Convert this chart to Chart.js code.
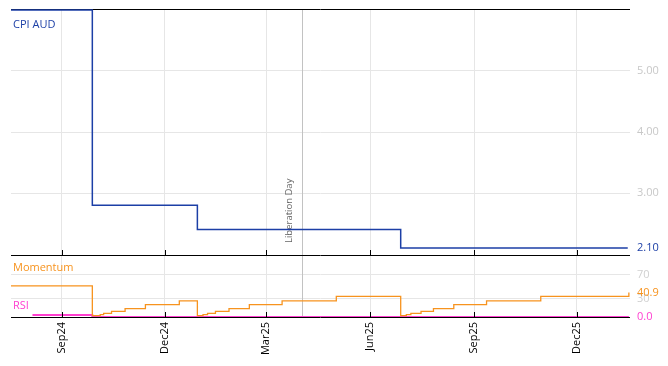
<!DOCTYPE html>
<html>
<head>
<meta charset="utf-8">
<script src="https://cdn.jsdelivr.net/npm/chart.js@4.4.1/dist/chart.umd.min.js"></script>
<style>
  html, body { margin: 0; padding: 0; background: #fff; }
  canvas { display: block; }
</style>
</head>
<body>
<canvas id="chart" width="668" height="366"></canvas>
<script>
// CPI (step series, change points)
const cpiDates = ['2024-07-18', '2024-09-28', '2024-12-30', '2025-06-28', '2026-01-15'];
const cpiValues = [6.00, 2.80, 2.40, 2.10, 2.10];

// Momentum (change points)
const momDates = [
    '2024-07-18', '2024-09-28', '2024-10-05', '2024-10-08', '2024-10-15', '2024-10-27', '2024-11-14', '2024-12-14',
    '2024-12-30', '2025-01-04', '2025-01-08', '2025-01-15', '2025-01-27', '2025-02-14', '2025-03-15', '2025-05-02',
    '2025-06-28', '2025-07-03', '2025-07-07', '2025-07-16', '2025-07-27', '2025-08-14', '2025-09-12', '2025-10-30',
    '2026-01-14', '2026-01-16'
];
const momValues = [
    51.7, 2.2, 3.8, 6.2, 9.5, 13.8, 20.5, 26.7,
    2.2, 3.8, 6.2, 9.5, 13.8, 20.5, 26.7, 34.5,
    2.2, 3.8, 6.2, 9.5, 13.8, 20.5, 26.7, 34.5,
    34.5, 40.9
];

// RSI
const rsiDates = ['2024-08-06', '2024-09-28', '2026-01-16'];
const rsiValues = [3.5, 0.0, 0.0];

// x axis
const tickDates = ['2024-09-01', '2024-12-01', '2025-03-01', '2025-06-01', '2025-09-01', '2025-12-01'];
const tickLabels = ['Sep24', 'Dec24', 'Mar25', 'Jun25', 'Sep25', 'Dec25'];
const xStart = '2024-07-18';
const xEnd = '2026-01-17';

// y axis ticks
const cpiTicks = [3, 4, 5];
const oscTicks = [30, 70];

const libDate = '2025-04-02';
const libLabel = 'Liberation Day';

const BLUE = '#1c3fa6';
const ORANGE = '#f7931e';
const PINK = '#ff3fd0';
const FONT = '"Open Sans", "Noto Sans", sans-serif';

const DAY = 86400000;
function toDay(s) {
    return Date.parse(s + 'T00:00:00Z') / DAY;
}
function points(dates, values) {
    return dates.map((d, i) => ({ x: toDay(d), y: values[i] }));
}
function noPad(s) {
    s.paddingTop = 0;
    s.paddingBottom = 0;
    s.paddingLeft = 0;
    s.paddingRight = 0;
}

const lastCpi = cpiValues[cpiValues.length - 1];
const lastMom = momValues[momValues.length - 1];
const lastRsi = rsiValues[rsiValues.length - 1];

const panelDeco = {
    id: 'panelDeco',
    beforeDatasetsDraw(chart) {
        const { ctx, chartArea, scales } = chart;
        const lx = Math.round(scales.x.getPixelForValue(toDay(libDate))) + 0.5;
        ctx.save();
        ctx.strokeStyle = '#c2c2c2';
        ctx.lineWidth = 1;
        ctx.beginPath();
        ctx.moveTo(lx, chartArea.top);
        ctx.lineTo(lx, chartArea.bottom);
        ctx.stroke();

        ctx.strokeStyle = '#000';
        ctx.beginPath();
        ctx.moveTo(chartArea.left, scales.y.top + 0.5);
        ctx.lineTo(chartArea.right, scales.y.top + 0.5);
        ctx.stroke();

        ctx.translate(lx - 13, scales.y.bottom - 12);
        ctx.rotate(-Math.PI / 2);
        ctx.fillStyle = '#666';
        ctx.font = '9.5px ' + FONT;
        ctx.textAlign = 'left';
        ctx.textBaseline = 'middle';
        ctx.fillText(libLabel, 0, 0);
        ctx.restore();
    },
    afterDatasetsDraw(chart) {
        const { ctx, chartArea, scales } = chart;
        ctx.save();
        ctx.strokeStyle = '#000';
        ctx.lineWidth = 1;
        [scales.y.bottom, scales.y2.bottom].forEach(function (yy) {
            ctx.beginPath();
            ctx.moveTo(chartArea.left, yy + 0.5);
            ctx.lineTo(chartArea.right, yy + 0.5);
            ctx.stroke();
            scales.x.ticks.forEach(function (t) {
                const px = Math.round(scales.x.getPixelForValue(t.value)) + 0.5;
                ctx.beginPath();
                ctx.moveTo(px, yy - 5);
                ctx.lineTo(px, yy);
                ctx.stroke();
            });
        });

        ctx.font = '11px ' + FONT;
        ctx.textAlign = 'left';
        ctx.textBaseline = 'middle';
        ctx.fillStyle = BLUE;
        ctx.fillText('CPI AUD', chartArea.left + 2, scales.y.top + 16);
        ctx.fillStyle = ORANGE;
        ctx.fillText('Momentum', chartArea.left + 2, scales.y2.top + 13);
        ctx.fillStyle = PINK;
        ctx.fillText('RSI', chartArea.left + 2, scales.y2.bottom - 11);
        ctx.restore();
    }
};

new Chart(document.getElementById('chart'), {
    type: 'line',
    data: {
        datasets: [
            {
                label: 'CPI AUD',
                data: points(cpiDates, cpiValues),
                yAxisID: 'y',
                borderColor: BLUE,
                borderWidth: 1.5,
                stepped: true,
                pointRadius: 0
            },
            {
                label: 'Momentum',
                data: points(momDates, momValues),
                yAxisID: 'y2',
                borderColor: ORANGE,
                borderWidth: 1.3,
                stepped: true,
                pointRadius: 0
            },
            {
                label: 'RSI',
                data: points(rsiDates, rsiValues),
                yAxisID: 'y2',
                borderColor: PINK,
                borderWidth: 2,
                stepped: true,
                pointRadius: 0,
                clip: 0
            }
        ]
    },
    options: {
        responsive: false,
        animation: false,
        devicePixelRatio: 1,
        layout: { padding: { left: 11, top: 9, right: 0, bottom: 0 } },
        plugins: { legend: { display: false }, tooltip: { enabled: false } },
        scales: {
            x: {
                type: 'linear',
                min: toDay(xStart),
                max: toDay(xEnd),
                afterBuildTicks: function (s) {
                    s.ticks = tickDates.map(d => ({ value: toDay(d) }));
                },
                afterFit: function (s) { s.height = 49; noPad(s); },
                grid: { color: '#e6e6e6', drawTicks: false },
                border: { display: false },
                ticks: {
                    autoSkip: false,
                    minRotation: 90,
                    maxRotation: 90,
                    padding: 5,
                    color: '#000',
                    font: { family: FONT, size: 11 },
                    callback: (v, i) => tickLabels[i]
                }
            },
            y: {
                type: 'linear',
                position: 'right',
                stack: 'panels',
                stackWeight: 246,
                min: 1.984,
                max: 6.016,
                afterBuildTicks: function (s) {
                    s.ticks = [lastCpi].concat(cpiTicks).map(v => ({ value: v }));
                },
                afterFit: function (s) { s.width = 38; noPad(s); },
                grid: {
                    drawTicks: false,
                    color: c => c.tick && c.tick.value === lastCpi ? 'rgba(0,0,0,0)' : '#e6e6e6'
                },
                border: { display: false },
                ticks: {
                    autoSkip: false,
                    padding: 7,
                    font: { family: FONT, size: 11 },
                    color: c => c.tick && c.tick.value === lastCpi ? BLUE : '#c8c8c8',
                    callback: v => v.toFixed(2)
                }
            },
            y2: {
                type: 'linear',
                position: 'right',
                stack: 'panels',
                stackWeight: 62,
                min: 0,
                max: 103.3,
                afterBuildTicks: function (s) {
                    s.ticks = [lastRsi].concat(oscTicks, [lastMom]).map(v => ({ value: v }));
                },
                afterFit: function (s) { s.width = 38; noPad(s); },
                grid: {
                    drawTicks: false,
                    color: c => c.tick && c.index > 0 && c.index <= oscTicks.length ? '#e6e6e6' : 'rgba(0,0,0,0)'
                },
                border: { display: false },
                ticks: {
                    autoSkip: false,
                    padding: 7,
                    font: { family: FONT, size: 11 },
                    color: function (c) {
                        if (c.index === 0) return PINK;
                        if (c.index === oscTicks.length + 1) return ORANGE;
                        return '#d0d0d0';
                    },
                    callback: function (v, i) {
                        return (i === 0 || i === oscTicks.length + 1) ? v.toFixed(1) : String(v);
                    }
                }
            }
        }
    },
    plugins: [panelDeco]
});
</script>
</body>
</html>
